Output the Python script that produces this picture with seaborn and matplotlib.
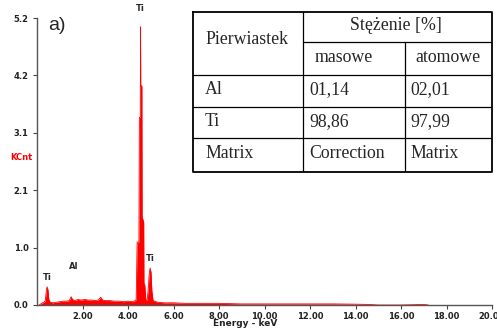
import numpy as np
import seaborn as sns
import matplotlib
matplotlib.use("Agg")
import matplotlib.pyplot as plt
from matplotlib.ticker import FuncFormatter

sns.set_style("white")
plt.rcParams["font.family"] = ["DejaVu Sans"]

# === Spectrum ===
energy = [0.10, 0.20, 0.30, 0.36, 0.40, 0.44, 0.48, 0.52, 0.58, 0.70, 0.85,
          1.00, 1.15, 1.30, 1.42, 1.50, 1.56, 1.65, 1.80, 1.95, 2.10, 2.25,
          2.40, 2.55, 2.70, 2.80, 2.88, 3.00, 3.20, 3.40, 3.60, 3.80, 4.00,
          4.20, 4.32, 4.36, 4.40, 4.48, 4.50, 4.54, 4.55, 4.56, 4.61, 4.62,
          4.69, 4.70, 4.74, 4.78, 4.84, 4.88, 4.93, 4.97, 5.01, 5.05, 5.10,
          5.30, 5.60, 6.00, 6.50, 7.00, 7.50, 8.00, 9.00, 10.00, 11.00, 12.00,
          13.00, 14.00, 14.60, 15.00, 16.00, 17.00, 17.20]
counts = [0.00, 0.03, 0.05, 0.07, 0.22, 0.33, 0.28, 0.10, 0.05, 0.04, 0.05,
          0.06, 0.07, 0.07, 0.08, 0.15, 0.10, 0.08, 0.10, 0.09, 0.10, 0.09,
          0.09, 0.08, 0.09, 0.14, 0.09, 0.08, 0.08, 0.07, 0.07, 0.06, 0.07,
          0.06, 0.08, 0.10, 1.14, 1.14, 3.40, 3.40, 5.04, 3.97, 3.97, 1.60,
          1.50, 0.40, 0.35, 0.10, 0.08, 0.25, 0.55, 0.67, 0.60, 0.25, 0.08,
          0.05, 0.04, 0.04, 0.03, 0.03, 0.03, 0.03, 0.02, 0.02, 0.02, 0.02,
          0.02, 0.015, 0.01, 0.00, 0.00, 0.01, 0.00]

peak_labels = ["Ti", "Al", "Ti", "Ti"]
peak_x = [0.45, 1.60, 5.00, 4.55]
peak_y = [0.50, 0.69, 0.84, 5.38]

y_ticks = np.linspace(0, 5.2, 6)
x_ticks = [2, 4, 6, 8, 10, 12, 14, 16, 18, 20]

# === Table ===
col_sub = ["masowe", "atomowe"]
rows = ["Al", "Ti", "Matrix"]
masowe = ["01,14", "98,86", "Correction"]
atomowe = ["02,01", "97,99", "Matrix"]

fig = plt.figure(figsize=(4.97, 3.31), dpi=100)
ax = fig.add_axes([37 / 497, 26 / 331, 455 / 497, 287 / 331])

ax.fill_between(energy, counts, 0, color="red", lw=0)
sns.lineplot(x=energy, y=counts, ax=ax, color="red", lw=0.6, estimator=None)

ax.set_xlim(0, 20)
ax.set_ylim(0, 5.2)
ax.set_xticks(x_ticks)
ax.set_yticks(y_ticks)
ax.xaxis.set_major_formatter(FuncFormatter(lambda v, p: f"{v:.2f}"))
ax.yaxis.set_major_formatter(FuncFormatter(lambda v, p: f"{v:.1f}"))
ax.tick_params(axis="both", length=3, width=0.8, color="#444444",
               labelsize=6, pad=3, bottom=True, left=True)
ax.tick_params(axis="x", pad=2)
for lab in ax.get_xticklabels() + ax.get_yticklabels():
    lab.set_fontweight("bold")
    lab.set_color("#222222")
for s in ["top", "right"]:
    ax.spines[s].set_visible(False)
for s in ["left", "bottom"]:
    ax.spines[s].set_color("#555555")
    ax.spines[s].set_linewidth(1.0)

ax.set_xlabel("")
ax.set_ylabel("")
fig.text(245 / 497, 1 - 324 / 331, "Energy - keV", fontsize=6.5,
         fontweight="bold", ha="center", va="center", color="#222222")
fig.text(10 / 497, 1 - 158 / 331, "KCnt", color="red", fontsize=6,
         fontweight="bold", va="center", ha="left")

for t, x, y in zip(peak_labels, peak_x, peak_y):
    ax.text(x, y, t, fontsize=6, fontweight="bold", ha="center",
            va="center", clip_on=False)

fig.text(48 / 497, 1 - 26 / 331, "a)", fontsize=14, family="Liberation Sans",
         va="center", ha="left")

# table drawn in its own axes, pixel-like units
tx = fig.add_axes([193 / 497, (331 - 172) / 331, 299 / 497, 160 / 331])
tx.set_xlim(0, 299)
tx.set_ylim(160, 0)
tx.axis("off")
lk = dict(color="black", lw=0.9)
tx.plot([0, 299, 299, 0, 0], [0, 0, 160, 160, 0], color="black", lw=1.3,
        clip_on=False)
tx.plot([110, 110], [0, 160], **lk)
tx.plot([212, 212], [30, 160], **lk)
tx.plot([110, 299], [30, 30], **lk)
for yy in [63, 95, 126]:
    tx.plot([0, 299], [yy, yy], **lk)

tf = dict(family="Liberation Serif", fontsize=12.8, va="center", ha="left")
tx.text(12, 28, "Pierwiastek", **tf)
tx.text(203, 14, "Stężenie [%]", **{**tf, "ha": "center"})
tx.text(122, 46, col_sub[0], **tf)
tx.text(222, 46, col_sub[1], **tf)
for i, (r, m, a) in enumerate(zip(rows, masowe, atomowe)):
    yc = [78, 110, 142][i]
    tx.text(12, yc, r, **tf)
    tx.text(116, yc, m, **tf)
    tx.text(217, yc, a, **tf)

fig.savefig("out.png", dpi=100)
